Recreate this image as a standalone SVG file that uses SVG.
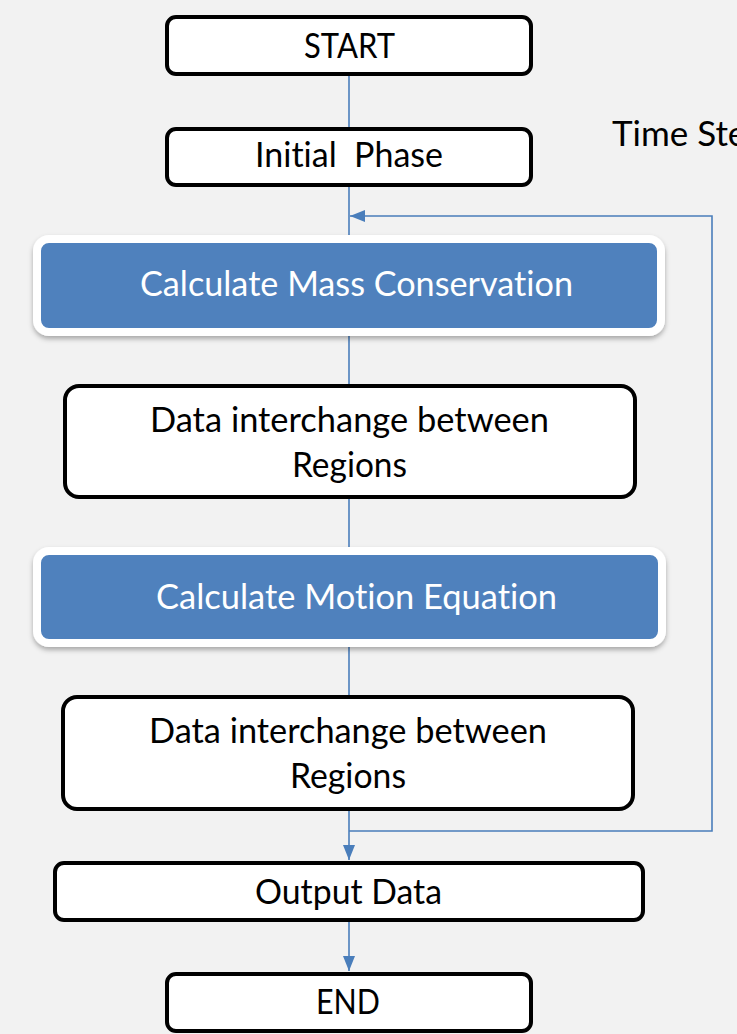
<svg xmlns="http://www.w3.org/2000/svg" width="737" height="1034" viewBox="0 0 737 1034">
<defs>
<style>
.box{fill:#ffffff;stroke:#000000;stroke-width:4}
.blue{fill:#4f81bd;stroke:#ffffff;stroke-width:8}
.t{font-family:Lato,"Liberation Sans",sans-serif;font-size:35px;fill:#000000;font-variant-ligatures:none}
.tw{font-family:Lato,"Liberation Sans",sans-serif;font-size:35px;fill:#ffffff;font-variant-ligatures:none}
.c{fill:none;stroke:#4a7ebb;stroke-width:1.6}
</style>
<marker id="ah" markerWidth="16" markerHeight="12" refX="15" refY="6" orient="auto" markerUnits="userSpaceOnUse">
<path d="M0,0 L15,6 L0,12 Z" fill="#4a7ebb"/>
</marker>
<filter id="sh" x="-5%" y="-10%" width="110%" height="130%">
<feDropShadow dx="0" dy="3" stdDeviation="2.5" flood-color="#000000" flood-opacity="0.3"/>
</filter>
</defs>
<rect x="0" y="0" width="737" height="1034" fill="#f2f2f2"/>
<g id="connectors">
<line class="c" x1="349" y1="76" x2="349" y2="127"/>
<line class="c" x1="349" y1="187" x2="349" y2="235"/>
<line class="c" x1="349" y1="336" x2="349" y2="384"/>
<line class="c" x1="349" y1="499" x2="349" y2="547"/>
<line class="c" x1="349" y1="647" x2="349" y2="695"/>
<line class="c" x1="349" y1="811" x2="349" y2="860" marker-end="url(#ah)"/>
<line class="c" x1="349" y1="922" x2="349" y2="971" marker-end="url(#ah)"/>
<polyline class="c" points="349,831 712,831 712,216 350,216" marker-end="url(#ah)"/>
</g>
<g id="start">
<rect class="box" x="167" y="17" width="364" height="57" rx="9"/>
<text class="t" x="349.5" y="58" text-anchor="middle" textLength="91" lengthAdjust="spacingAndGlyphs">START</text>
</g>
<g id="initial">
<rect class="box" x="167" y="129" width="364" height="56" rx="9"/>
<text class="t" x="349" y="167" text-anchor="middle" xml:space="preserve" textLength="188" lengthAdjust="spacingAndGlyphs">Initial  Phase</text>
</g>
<g id="mass">
<rect class="blue" x="37" y="239" width="624" height="93" rx="12" filter="url(#sh)"/>
<text class="tw" x="356.5" y="296" text-anchor="middle" textLength="433" lengthAdjust="spacingAndGlyphs">Calculate Mass Conservation</text>
</g>
<g id="data1">
<rect class="box" x="65" y="386" width="570" height="111" rx="14"/>
<text class="t" x="349.5" y="432" text-anchor="middle" textLength="399" lengthAdjust="spacingAndGlyphs">Data interchange between</text>
<text class="t" x="349.5" y="477" text-anchor="middle" textLength="115" lengthAdjust="spacingAndGlyphs">Regions</text>
</g>
<g id="motion">
<rect class="blue" x="37" y="551" width="625" height="92" rx="12" filter="url(#sh)"/>
<text class="tw" x="356.5" y="609" text-anchor="middle" textLength="401" lengthAdjust="spacingAndGlyphs">Calculate Motion Equation</text>
</g>
<g id="data2">
<rect class="box" x="63" y="697" width="570" height="112" rx="14"/>
<text class="t" x="348" y="743" text-anchor="middle" textLength="398" lengthAdjust="spacingAndGlyphs">Data interchange between</text>
<text class="t" x="348" y="788" text-anchor="middle" textLength="116" lengthAdjust="spacingAndGlyphs">Regions</text>
</g>
<g id="output">
<rect class="box" x="55" y="863" width="588" height="57" rx="9"/>
<text class="t" x="348.5" y="904" text-anchor="middle" textLength="187" lengthAdjust="spacingAndGlyphs">Output Data</text>
</g>
<g id="end">
<rect class="box" x="167" y="974" width="364" height="57" rx="9"/>
<text class="t" x="348" y="1014" text-anchor="middle" textLength="64" lengthAdjust="spacingAndGlyphs">END</text>
</g>
<g id="timestep">
<text class="t" x="612" y="146">Time Ste</text>
</g>
</svg>
